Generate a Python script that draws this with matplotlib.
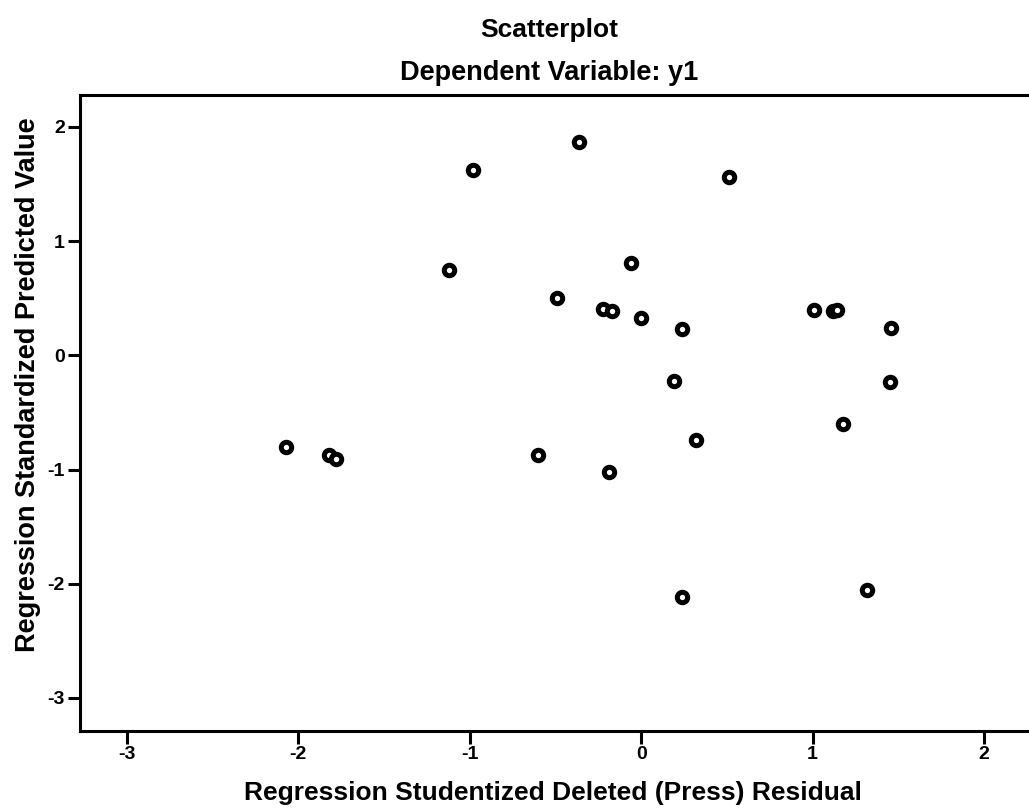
import numpy as np
import matplotlib.pyplot as plt

plt.rcParams['font.family'] = ['Liberation Sans', 'DejaVu Sans']
plt.rcParams['font.weight'] = 'bold'
plt.rcParams['axes.unicode_minus'] = False

# studentized deleted residual (x) vs standardized predicted value (y)
resid = [-2.07, -1.82, -1.78, -1.12, -0.98, -0.60, -0.49, -0.36, -0.22, -0.19,
         -0.17, -0.06, 0.00, 0.19, 0.24, 0.24, 0.32, 0.51, 1.01, 1.12,
         1.14, 1.18, 1.32, 1.46, 1.45]
pred = [-0.80, -0.87, -0.91, 0.75, 1.62, -0.87, 0.50, 1.87, 0.41, -1.02,
        0.39, 0.81, 0.33, -0.22, 0.23, -2.12, -0.74, 1.56, 0.40, 0.39,
        0.40, -0.60, -2.05, 0.24, -0.23]

xticks = [-3, -2, -1, 0, 1, 2]
yticks = [-3, -2, -1, 0, 1, 2]

W, H = 1029, 809
fig = plt.figure(figsize=(W / 100, H / 100), dpi=100)
ax = fig.add_axes([80 / W, 1 - 731 / H, 1 - 80 / W, (731 - 95) / H])

ax.plot(resid, pred, 'o', ms=7.5, mfc='white', mec='black', mew=3.6, ls='none')

ax.set_xlim(-3.274, 2.2625)
ax.set_ylim(-3.289, 2.28)
ax.set_xticks(xticks)
ax.set_yticks(yticks)
ax.tick_params(width=2.2, length=9, labelsize=14, pad=2)
for lab in ax.get_xticklabels() + ax.get_yticklabels():
    lab.set_fontweight('bold')
for s in ['left', 'bottom', 'top']:
    ax.spines[s].set_linewidth(2.2)
ax.spines['right'].set_visible(False)

fig.text(549 / W, 1 - 37 / H, 'Scatterplot', ha='center', va='baseline',
         fontsize=19, fontweight='bold')
fig.text(549 / W, 1 - 80 / H, 'Dependent Variable: y1', ha='center', va='baseline',
         fontsize=19.5, fontweight='bold')
fig.text(553 / W, 1 - 793 / H, 'Regression Studentized Deleted (Press) Residual',
         ha='center', va='center', fontsize=19, fontweight='bold')
fig.text(28 / W, 1 - 385 / H, 'Regression Standardized Predicted Value',
         ha='center', va='center', rotation=90, fontsize=19.5, fontweight='bold')

fig.savefig('out.png', dpi=100)
